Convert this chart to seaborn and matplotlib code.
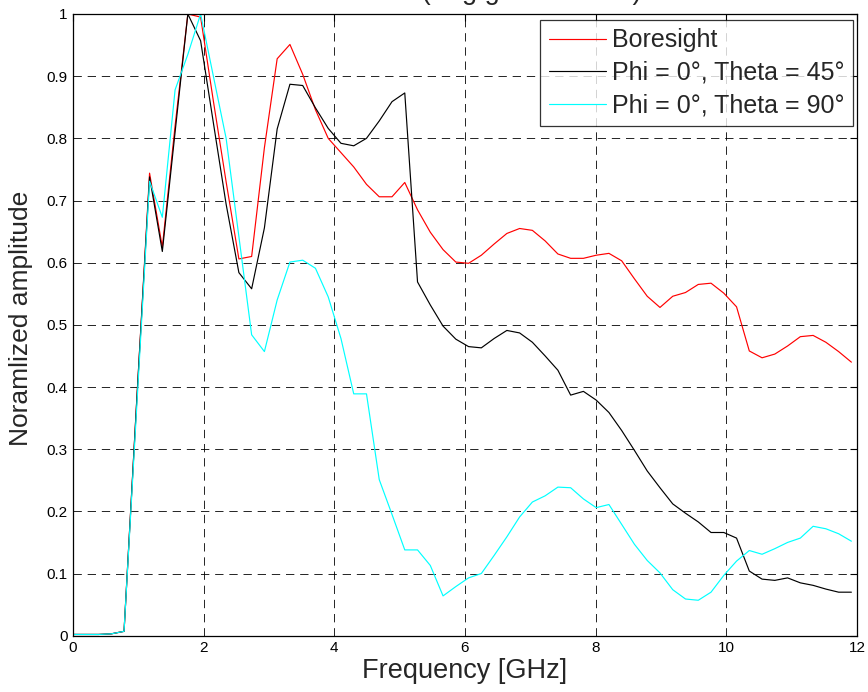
import numpy as np
import pandas as pd
import seaborn as sns
import matplotlib.pyplot as plt
from matplotlib.ticker import FuncFormatter

# frequency grid of the measurement (62 samples, 195.3 MHz step)
freq_step = 0.1953125
freq = np.arange(62) * freq_step

boresight = [0.002, 0.002, 0.002, 0.003, 0.007, 0.38, 0.744, 0.625, 0.82, 1.0,
             0.995, 0.86, 0.73, 0.606, 0.61, 0.785, 0.928, 0.951, 0.903, 0.846,
             0.800, 0.777, 0.754, 0.726, 0.706, 0.706, 0.729, 0.685, 0.649, 0.621,
             0.601, 0.599, 0.612, 0.630, 0.647, 0.655, 0.652, 0.635, 0.614, 0.607,
             0.607, 0.612, 0.615, 0.603, 0.574, 0.546, 0.528, 0.546, 0.552, 0.565,
             0.567, 0.551, 0.529, 0.458, 0.447, 0.453, 0.466, 0.481, 0.483, 0.472,
             0.457, 0.440]

theta45 = [0.002, 0.002, 0.002, 0.003, 0.007, 0.38, 0.738, 0.618, 0.81, 1.0,
           0.957, 0.825, 0.694, 0.584, 0.558, 0.656, 0.815, 0.887, 0.885, 0.849,
           0.816, 0.792, 0.788, 0.800, 0.828, 0.859, 0.873, 0.569, 0.532, 0.498,
           0.477, 0.465, 0.463, 0.478, 0.491, 0.487, 0.472, 0.450, 0.427, 0.387,
           0.393, 0.379, 0.359, 0.330, 0.298, 0.265, 0.238, 0.212, 0.197, 0.183,
           0.166, 0.166, 0.157, 0.104, 0.091, 0.089, 0.093, 0.085, 0.081, 0.075,
           0.070, 0.070]

theta90 = [0.002, 0.002, 0.002, 0.003, 0.007, 0.37, 0.731, 0.673, 0.878, 0.935,
           1.0, 0.90, 0.80, 0.642, 0.484, 0.457, 0.54, 0.601, 0.604, 0.591,
           0.545, 0.478, 0.389, 0.389, 0.251, 0.195, 0.138, 0.138, 0.113, 0.064,
           0.079, 0.093, 0.100, 0.129, 0.159, 0.191, 0.215, 0.225, 0.239, 0.238,
           0.220, 0.206, 0.211, 0.179, 0.147, 0.121, 0.101, 0.074, 0.059, 0.057,
           0.070, 0.097, 0.120, 0.137, 0.131, 0.140, 0.150, 0.157, 0.176, 0.172,
           0.164, 0.152]

labels = ["Boresight", "Phi = 0°, Theta = 45°", "Phi = 0°, Theta = 90°"]
colors = ["#ff0000", "#000000", "#00ffff"]

df = pd.concat([
    pd.DataFrame({"freq": freq, "amp": vals, "case": lab})
    for vals, lab in zip([boresight, theta45, theta90], labels)
])

sns.set_style("white")
plt.rcParams["font.family"] = ["Liberation Sans", "DejaVu Sans"]

fig = plt.figure(figsize=(8.68, 6.92), dpi=100)
ax = fig.add_axes([73 / 868, 56.3 / 692, 784 / 868, 621.7 / 692])

sns.lineplot(data=df, x="freq", y="amp", hue="case", palette=colors,
             linewidth=0.85, ax=ax, legend=False)

ax.set_xlim(0, 12)
ax.set_ylim(0, 1)
ax.set_xticks(np.arange(0, 13, 2))
ax.set_yticks(np.arange(0, 1.01, 0.1))
ax.yaxis.set_major_formatter(FuncFormatter(lambda v, p: f"{v:g}"))
ax.tick_params(direction="in", top=True, right=True, length=5, width=0.8,
               labelsize=11, colors="black", pad=4)
ax.grid(True, color="black", linestyle=(0, (10, 7)), linewidth=0.6)
for s in ax.spines.values():
    s.set_color("black")
    s.set_linewidth(0.9)

ax.set_xlabel("Frequency [GHz]", fontsize=19.5, labelpad=2)
ax.set_ylabel("Noramlized amplitude", fontsize=19)
ax.yaxis.set_label_coords(-0.051, 0.51)

# title sits above the top edge of the image, only its descenders show
fig.text(403 / 868, 1 + 1 / 692, "Normalized radiation (Avg gain in band)",
         fontsize=19.5, ha="center", va="baseline")

handles = [plt.Line2D([], [], color=c, linewidth=0.85) for c in colors]
leg = ax.legend(handles, labels, loc="upper right", bbox_to_anchor=(0.995, 0.99),
                fontsize=18, frameon=True, fancybox=False, handlelength=2.3,
                handletextpad=0.25, labelspacing=0.34, borderpad=0.33,
                borderaxespad=0)
leg.get_frame().set_edgecolor("black")
leg.get_frame().set_linewidth(0.9)

fig.savefig("out.png", dpi=100)
